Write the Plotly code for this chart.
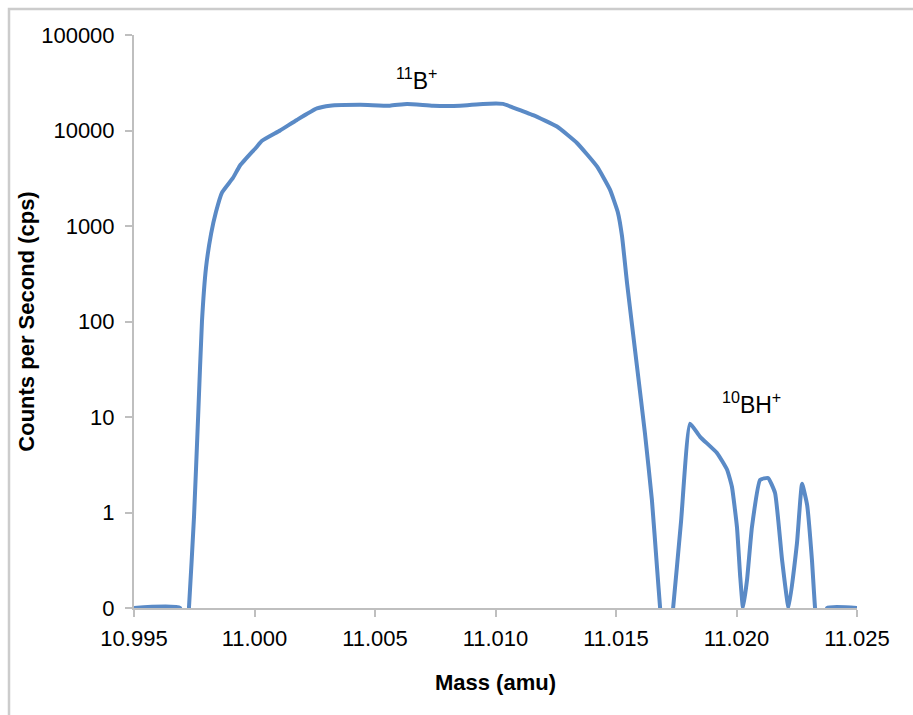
import math
import plotly.graph_objects as go

# Mass (amu)
mass = [10.99500, 10.99691, 10.99712, 10.99728, 10.99749, 10.99766, 10.99782, 10.99799,
        10.99820, 10.99840, 10.99865, 10.99911, 10.99940, 11.00006, 11.00031, 11.00106,
        11.00176, 11.00259, 11.00313, 11.00438, 11.00562, 11.00633, 11.00741, 11.00853,
        11.00948, 11.01031, 11.01073, 11.01156, 11.01255, 11.01338, 11.01421, 11.01475,
        11.01508, 11.01525, 11.01546, 11.01587, 11.01620, 11.01649, 11.01670, 11.01683,
        11.01707, 11.01737, 11.01770, 11.01807, 11.01849, 11.01919, 11.01961, 11.01981,
        11.02002, 11.02015, 11.02027, 11.02044, 11.02064, 11.02098, 11.02131, 11.02160,
        11.02189, 11.02216, 11.02251, 11.02272, 11.02293, 11.02313, 11.02326, 11.02351,
        11.02376, 11.02500]
# Counts per second (cps)
cps = [0.1, 0.1, 0.03, 0.1, 0.9, 10, 100, 370,
       830, 1400, 2240, 3200, 4300, 6600, 7800, 10000,
       12900, 17000, 18200, 18600, 18200, 19000, 18200, 18200,
       19000, 19000, 17400, 14500, 11000, 7400, 4200, 2400,
       1380, 780, 250, 34, 6.8, 1.35, 0.27, 0.1,
       0.02, 0.1, 0.81, 8.5, 6.2, 4.2, 2.8, 1.86,
       0.7, 0.22, 0.1, 0.2, 0.7, 2.2, 2.3, 1.6,
       0.32, 0.1, 0.48, 2.0, 1.2, 0.32, 0.1, 0.03,
       0.1, 0.1]

x_ticks = [10.995, 11.000, 11.005, 11.010, 11.015, 11.020, 11.025]
y_ticks = [0.1, 1, 10, 100, 1000, 10000, 100000]
y_ticktext = ["0", "1", "10", "100", "1000", "10000", "100000"]

labels = ["<sup>11</sup>B<sup>+</sup>", "<sup>10</sup>BH<sup>+</sup>"]
label_x = [11.00674, 11.02064]
label_y = [35000, 14]

FONT = "Liberation Sans, Arial, sans-serif"
AXIS_GRAY = "#bfbfbf"

fig = go.Figure()
fig.add_trace(go.Scatter(
    x=mass, y=cps, mode="lines",
    line=dict(color="#5a8ac6", width=4, shape="spline", smoothing=0.4),
    showlegend=False, hoverinfo="skip",
))

for t, lx, ly in zip(labels, label_x, label_y):
    fig.add_annotation(x=lx, y=math.log10(ly), xref="x", yref="y", text=t,
                       showarrow=False, font=dict(family=FONT, size=23, color="black"))

fig.add_shape(type="rect", xref="paper", yref="paper",
              x0=(9 - 134) / 723, x1=1.3, y0=-0.4, y1=(608 - 9) / 573,
              line=dict(color="#cccccc", width=2.5), fillcolor="rgba(0,0,0,0)", layer="below")

fig.update_layout(
    width=913, height=715,
    margin=dict(l=134, r=56, t=35, b=107),
    paper_bgcolor="white", plot_bgcolor="white",
    font=dict(family=FONT, size=22, color="black"),
    xaxis=dict(
        range=[10.995, 11.025], tickvals=x_ticks, tickformat=".3f",
        showgrid=False, zeroline=False, showline=True, linecolor=AXIS_GRAY, linewidth=2,
        ticks="outside", ticklen=7, tickcolor=AXIS_GRAY, tickwidth=1.5,
        ticklabelstandoff=3, layer="below traces",
        title=dict(text="<b>Mass (amu)</b>", font=dict(family=FONT, size=22), standoff=24),
    ),
    yaxis=dict(
        type="log", range=[-1, 5], tickvals=y_ticks, ticktext=y_ticktext,
        showgrid=False, zeroline=False, showline=True, linecolor=AXIS_GRAY, linewidth=2,
        ticks="outside", ticklen=7, tickcolor=AXIS_GRAY, tickwidth=1.5,
        ticklabelstandoff=6, layer="below traces",
        title=dict(text="<b>Counts per Second (cps)</b>", font=dict(family=FONT, size=22), standoff=0),
    ),
)

fig.write_html("out.html")
